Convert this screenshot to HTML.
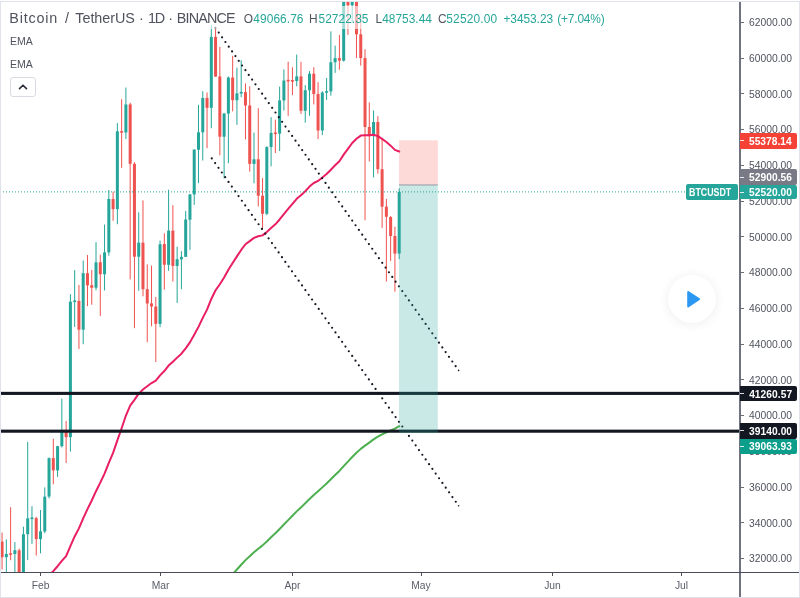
<!DOCTYPE html>
<html><head><meta charset="utf-8"><title>BTCUSDT</title>
<style>
html,body{margin:0;padding:0;background:#fff;}
body{width:800px;height:598px;position:relative;overflow:hidden;font-family:"Liberation Sans",sans-serif;}
#frame{position:absolute;left:0;top:1px;width:798px;height:595px;border:1px solid #e0e3eb;}
svg{position:absolute;left:0;top:0;}
.axv{position:absolute;left:739.4px;top:2px;width:1.3px;height:595px;background:#70737f;}
.axh{position:absolute;left:1px;top:572px;width:798px;height:1px;background:#4a4d57;}
.tick{position:absolute;left:740px;width:4px;height:1px;background:#6a6d78;}
.pl{position:absolute;left:749px;font-size:10.3px;line-height:14px;color:#50535e;white-space:nowrap;}
.tl{position:absolute;top:578.7px;font-size:10.3px;line-height:14px;color:#5d606b;width:40px;margin-left:-20px;text-align:center;}
.tt{position:absolute;top:572px;width:1px;height:4px;background:#4a4d57;}
.tag{position:absolute;}
.tag i{position:absolute;left:0.6px;width:3.6px;height:1px;background:#fff;opacity:.85}
.w{position:absolute;white-space:nowrap;}
#legbg{position:absolute;left:5px;top:5.6px;width:604px;height:23px;background:rgba(255,255,255,.6);}
#title{position:absolute;left:10px;top:9px;font-size:14.4px;line-height:18px;color:#50535e;white-space:nowrap;}
#ohlc{position:absolute;left:243px;top:10px;font-size:12.4px;line-height:16px;color:#50535e;white-space:nowrap;}
#ohlc b{font-weight:normal;color:#26a69a;}
.ema{position:absolute;left:10px;font-size:10.5px;line-height:14px;color:#50535e;}
#btn{position:absolute;left:10.4px;top:77.2px;width:24px;height:17.5px;border:1px solid #d9dbe2;border-radius:3px;background:#fff;}
#play{position:absolute;left:668.2px;top:275.4px;width:48px;height:48px;border-radius:50%;background:#fff;box-shadow:0 1px 12px rgba(0,0,0,.075);}
</style></head><body>
<div id="frame"></div>
<svg width="800" height="598" viewBox="0 0 800 598"><defs><clipPath id="cp"><rect x="1" y="2" width="739" height="570"/></clipPath></defs><g clip-path="url(#cp)">
<rect x="1.57" y="532.57" width="1" height="36.93" fill="#ef5350"/>
<rect x="0.57" y="541.61" width="3" height="15.59" fill="#ef5350"/>
<rect x="5.84" y="539.45" width="1" height="38.80" fill="#26a69a"/>
<rect x="4.84" y="553.96" width="3" height="3.24" fill="#26a69a"/>
<rect x="10.11" y="507.21" width="1" height="52.99" fill="#ef5350"/>
<rect x="9.11" y="553.21" width="3" height="1.60" fill="#ef5350"/>
<rect x="14.38" y="542.13" width="1" height="37.25" fill="#26a69a"/>
<rect x="13.38" y="550.24" width="3" height="3.81" fill="#26a69a"/>
<rect x="18.65" y="548.63" width="1" height="59.27" fill="#ef5350"/>
<rect x="17.65" y="550.30" width="3" height="37.50" fill="#ef5350"/>
<rect x="22.92" y="526.72" width="1" height="70.44" fill="#26a69a"/>
<rect x="21.92" y="534.21" width="3" height="53.65" fill="#26a69a"/>
<rect x="27.19" y="441.86" width="1" height="118.25" fill="#26a69a"/>
<rect x="26.19" y="518.34" width="3" height="15.80" fill="#26a69a"/>
<rect x="31.46" y="506.17" width="1" height="37.68" fill="#26a69a"/>
<rect x="30.46" y="517.50" width="3" height="1.60" fill="#26a69a"/>
<rect x="35.73" y="516.73" width="1" height="38.80" fill="#ef5350"/>
<rect x="34.73" y="518.16" width="3" height="20.91" fill="#ef5350"/>
<rect x="40.00" y="510.03" width="1" height="43.27" fill="#26a69a"/>
<rect x="39.00" y="531.32" width="3" height="7.81" fill="#26a69a"/>
<rect x="44.27" y="487.38" width="1" height="45.86" fill="#26a69a"/>
<rect x="43.27" y="496.64" width="3" height="34.83" fill="#26a69a"/>
<rect x="48.54" y="457.39" width="1" height="41.11" fill="#26a69a"/>
<rect x="47.54" y="458.18" width="3" height="38.36" fill="#26a69a"/>
<rect x="52.81" y="438.70" width="1" height="45.52" fill="#ef5350"/>
<rect x="51.81" y="458.14" width="3" height="12.23" fill="#ef5350"/>
<rect x="57.08" y="445.81" width="1" height="31.10" fill="#26a69a"/>
<rect x="56.08" y="446.17" width="3" height="24.20" fill="#26a69a"/>
<rect x="61.35" y="398.54" width="1" height="48.97" fill="#26a69a"/>
<rect x="60.35" y="430.15" width="3" height="16.03" fill="#26a69a"/>
<rect x="65.62" y="420.97" width="1" height="41.98" fill="#ef5350"/>
<rect x="64.62" y="430.24" width="3" height="6.90" fill="#ef5350"/>
<rect x="69.89" y="294.18" width="1" height="157.39" fill="#26a69a"/>
<rect x="68.89" y="301.68" width="3" height="135.46" fill="#26a69a"/>
<rect x="74.16" y="270.08" width="1" height="56.85" fill="#26a69a"/>
<rect x="73.16" y="300.47" width="3" height="1.60" fill="#26a69a"/>
<rect x="78.43" y="284.95" width="1" height="64.04" fill="#ef5350"/>
<rect x="77.43" y="300.86" width="3" height="28.83" fill="#ef5350"/>
<rect x="82.70" y="260.50" width="1" height="83.72" fill="#26a69a"/>
<rect x="81.70" y="273.18" width="3" height="56.51" fill="#26a69a"/>
<rect x="86.97" y="255.02" width="1" height="51.12" fill="#ef5350"/>
<rect x="85.97" y="273.19" width="3" height="12.17" fill="#ef5350"/>
<rect x="91.24" y="269.94" width="1" height="34.82" fill="#ef5350"/>
<rect x="90.24" y="285.17" width="3" height="2.59" fill="#ef5350"/>
<rect x="95.51" y="242.11" width="1" height="48.13" fill="#26a69a"/>
<rect x="94.51" y="262.31" width="3" height="25.40" fill="#26a69a"/>
<rect x="99.78" y="254.57" width="1" height="61.48" fill="#ef5350"/>
<rect x="98.78" y="262.26" width="3" height="11.96" fill="#ef5350"/>
<rect x="104.05" y="224.56" width="1" height="65.88" fill="#26a69a"/>
<rect x="103.05" y="252.37" width="3" height="21.84" fill="#26a69a"/>
<rect x="108.32" y="190.08" width="1" height="65.61" fill="#26a69a"/>
<rect x="107.32" y="199.00" width="3" height="53.37" fill="#26a69a"/>
<rect x="112.59" y="191.66" width="1" height="29.12" fill="#ef5350"/>
<rect x="111.59" y="199.04" width="3" height="10.10" fill="#ef5350"/>
<rect x="116.86" y="123.06" width="1" height="101.13" fill="#26a69a"/>
<rect x="115.86" y="131.32" width="3" height="77.82" fill="#26a69a"/>
<rect x="121.13" y="99.25" width="1" height="68.58" fill="#ef5350"/>
<rect x="120.13" y="131.10" width="3" height="1.60" fill="#ef5350"/>
<rect x="125.40" y="87.60" width="1" height="51.38" fill="#26a69a"/>
<rect x="124.40" y="104.47" width="3" height="28.01" fill="#26a69a"/>
<rect x="129.67" y="102.69" width="1" height="176.69" fill="#ef5350"/>
<rect x="128.67" y="104.40" width="3" height="59.43" fill="#ef5350"/>
<rect x="133.94" y="162.11" width="1" height="166.06" fill="#ef5350"/>
<rect x="132.94" y="163.83" width="3" height="92.87" fill="#ef5350"/>
<rect x="138.21" y="212.32" width="1" height="78.39" fill="#26a69a"/>
<rect x="137.21" y="242.67" width="3" height="14.03" fill="#26a69a"/>
<rect x="142.48" y="200.40" width="1" height="95.92" fill="#ef5350"/>
<rect x="141.48" y="242.67" width="3" height="46.52" fill="#ef5350"/>
<rect x="146.75" y="264.33" width="1" height="77.89" fill="#ef5350"/>
<rect x="145.75" y="289.19" width="3" height="14.24" fill="#ef5350"/>
<rect x="151.02" y="265.58" width="1" height="60.66" fill="#ef5350"/>
<rect x="150.02" y="303.44" width="3" height="3.04" fill="#ef5350"/>
<rect x="155.29" y="296.97" width="1" height="65.02" fill="#ef5350"/>
<rect x="154.29" y="306.53" width="3" height="17.30" fill="#ef5350"/>
<rect x="159.56" y="240.63" width="1" height="86.51" fill="#26a69a"/>
<rect x="158.56" y="244.26" width="3" height="79.59" fill="#26a69a"/>
<rect x="163.83" y="233.30" width="1" height="56.35" fill="#ef5350"/>
<rect x="162.83" y="244.11" width="3" height="20.64" fill="#ef5350"/>
<rect x="168.10" y="189.69" width="1" height="81.14" fill="#26a69a"/>
<rect x="167.10" y="230.64" width="3" height="34.19" fill="#26a69a"/>
<rect x="172.37" y="205.19" width="1" height="76.37" fill="#ef5350"/>
<rect x="171.37" y="230.64" width="3" height="35.30" fill="#ef5350"/>
<rect x="176.64" y="246.74" width="1" height="56.26" fill="#26a69a"/>
<rect x="175.64" y="259.20" width="3" height="6.74" fill="#26a69a"/>
<rect x="180.91" y="251.17" width="1" height="38.07" fill="#26a69a"/>
<rect x="179.91" y="256.86" width="3" height="2.43" fill="#26a69a"/>
<rect x="185.18" y="210.96" width="1" height="45.90" fill="#26a69a"/>
<rect x="184.18" y="219.52" width="3" height="37.34" fill="#26a69a"/>
<rect x="189.45" y="193.95" width="1" height="55.91" fill="#26a69a"/>
<rect x="188.45" y="194.43" width="3" height="25.31" fill="#26a69a"/>
<rect x="193.72" y="149.39" width="1" height="55.51" fill="#26a69a"/>
<rect x="192.72" y="149.58" width="3" height="44.84" fill="#26a69a"/>
<rect x="197.99" y="104.85" width="1" height="78.32" fill="#26a69a"/>
<rect x="196.99" y="132.30" width="3" height="17.46" fill="#26a69a"/>
<rect x="202.26" y="91.21" width="1" height="69.31" fill="#26a69a"/>
<rect x="201.26" y="97.95" width="3" height="34.35" fill="#26a69a"/>
<rect x="206.53" y="92.44" width="1" height="55.75" fill="#ef5350"/>
<rect x="205.53" y="97.95" width="3" height="9.87" fill="#ef5350"/>
<rect x="210.80" y="25.19" width="1" height="103.06" fill="#26a69a"/>
<rect x="209.80" y="36.91" width="3" height="70.90" fill="#26a69a"/>
<rect x="215.07" y="27.33" width="1" height="49.29" fill="#ef5350"/>
<rect x="214.07" y="36.91" width="3" height="39.68" fill="#ef5350"/>
<rect x="219.34" y="46.83" width="1" height="108.40" fill="#ef5350"/>
<rect x="218.34" y="76.45" width="3" height="60.25" fill="#ef5350"/>
<rect x="223.61" y="112.87" width="1" height="65.54" fill="#26a69a"/>
<rect x="222.61" y="113.55" width="3" height="23.15" fill="#26a69a"/>
<rect x="227.88" y="76.48" width="1" height="86.70" fill="#26a69a"/>
<rect x="226.88" y="77.59" width="3" height="35.96" fill="#26a69a"/>
<rect x="232.15" y="55.84" width="1" height="55.51" fill="#ef5350"/>
<rect x="231.15" y="77.59" width="3" height="22.59" fill="#ef5350"/>
<rect x="236.42" y="67.65" width="1" height="57.16" fill="#26a69a"/>
<rect x="235.42" y="93.36" width="3" height="6.95" fill="#26a69a"/>
<rect x="240.69" y="60.29" width="1" height="36.82" fill="#26a69a"/>
<rect x="239.69" y="91.91" width="3" height="1.60" fill="#26a69a"/>
<rect x="244.96" y="83.36" width="1" height="56.10" fill="#ef5350"/>
<rect x="243.96" y="92.10" width="3" height="13.39" fill="#ef5350"/>
<rect x="249.23" y="86.21" width="1" height="85.43" fill="#ef5350"/>
<rect x="248.23" y="105.49" width="3" height="58.41" fill="#ef5350"/>
<rect x="253.50" y="132.68" width="1" height="50.58" fill="#26a69a"/>
<rect x="252.50" y="159.31" width="3" height="4.59" fill="#26a69a"/>
<rect x="257.77" y="108.19" width="1" height="98.30" fill="#ef5350"/>
<rect x="256.77" y="159.27" width="3" height="36.44" fill="#ef5350"/>
<rect x="262.04" y="178.13" width="1" height="51.12" fill="#ef5350"/>
<rect x="261.04" y="195.71" width="3" height="18.05" fill="#ef5350"/>
<rect x="266.31" y="146.21" width="1" height="68.97" fill="#26a69a"/>
<rect x="265.31" y="147.06" width="3" height="66.70" fill="#26a69a"/>
<rect x="270.58" y="117.13" width="1" height="49.15" fill="#26a69a"/>
<rect x="269.58" y="132.91" width="3" height="14.16" fill="#26a69a"/>
<rect x="274.85" y="119.65" width="1" height="33.39" fill="#ef5350"/>
<rect x="273.85" y="132.47" width="3" height="1.60" fill="#ef5350"/>
<rect x="279.12" y="86.65" width="1" height="64.43" fill="#26a69a"/>
<rect x="278.12" y="100.42" width="3" height="33.21" fill="#26a69a"/>
<rect x="283.39" y="69.44" width="1" height="41.05" fill="#26a69a"/>
<rect x="282.39" y="80.56" width="3" height="19.86" fill="#26a69a"/>
<rect x="287.66" y="61.72" width="1" height="54.17" fill="#ef5350"/>
<rect x="286.66" y="79.81" width="3" height="1.60" fill="#ef5350"/>
<rect x="291.93" y="67.26" width="1" height="27.79" fill="#ef5350"/>
<rect x="290.93" y="80.05" width="3" height="1.60" fill="#ef5350"/>
<rect x="296.20" y="54.57" width="1" height="31.67" fill="#26a69a"/>
<rect x="295.20" y="76.43" width="3" height="4.59" fill="#26a69a"/>
<rect x="300.47" y="61.88" width="1" height="52.03" fill="#ef5350"/>
<rect x="299.47" y="76.43" width="3" height="34.28" fill="#ef5350"/>
<rect x="304.74" y="85.10" width="1" height="37.60" fill="#26a69a"/>
<rect x="303.74" y="90.28" width="3" height="20.57" fill="#26a69a"/>
<rect x="309.01" y="71.16" width="1" height="44.59" fill="#26a69a"/>
<rect x="308.01" y="73.71" width="3" height="16.57" fill="#26a69a"/>
<rect x="313.28" y="67.17" width="1" height="37.21" fill="#ef5350"/>
<rect x="312.28" y="73.71" width="3" height="20.34" fill="#ef5350"/>
<rect x="317.55" y="82.19" width="1" height="56.87" fill="#ef5350"/>
<rect x="316.55" y="94.07" width="3" height="36.41" fill="#ef5350"/>
<rect x="321.82" y="91.16" width="1" height="43.84" fill="#26a69a"/>
<rect x="320.82" y="92.52" width="3" height="37.96" fill="#26a69a"/>
<rect x="326.09" y="77.91" width="1" height="22.16" fill="#26a69a"/>
<rect x="325.09" y="91.13" width="3" height="1.60" fill="#26a69a"/>
<rect x="330.36" y="31.34" width="1" height="64.34" fill="#26a69a"/>
<rect x="329.36" y="62.27" width="3" height="29.08" fill="#26a69a"/>
<rect x="334.63" y="45.65" width="1" height="27.20" fill="#26a69a"/>
<rect x="333.63" y="58.11" width="3" height="4.16" fill="#26a69a"/>
<rect x="338.90" y="34.91" width="1" height="34.85" fill="#ef5350"/>
<rect x="337.90" y="58.11" width="3" height="2.54" fill="#ef5350"/>
<rect x="343.17" y="-9.36" width="1" height="70.99" fill="#26a69a"/>
<rect x="342.17" y="-5.75" width="3" height="66.40" fill="#26a69a"/>
<rect x="347.44" y="-28.61" width="1" height="63.50" fill="#ef5350"/>
<rect x="346.44" y="-5.75" width="3" height="11.01" fill="#ef5350"/>
<rect x="351.71" y="-9.77" width="1" height="31.81" fill="#26a69a"/>
<rect x="350.71" y="1.69" width="3" height="3.57" fill="#26a69a"/>
<rect x="355.98" y="-4.77" width="1" height="62.91" fill="#ef5350"/>
<rect x="354.98" y="1.70" width="3" height="32.60" fill="#ef5350"/>
<rect x="360.25" y="13.36" width="1" height="52.30" fill="#ef5350"/>
<rect x="359.25" y="34.30" width="3" height="23.74" fill="#ef5350"/>
<rect x="364.52" y="49.23" width="1" height="171.01" fill="#ef5350"/>
<rect x="363.52" y="58.04" width="3" height="68.92" fill="#ef5350"/>
<rect x="368.79" y="102.36" width="1" height="59.07" fill="#ef5350"/>
<rect x="367.79" y="126.96" width="3" height="9.24" fill="#ef5350"/>
<rect x="373.06" y="110.41" width="1" height="66.97" fill="#26a69a"/>
<rect x="372.06" y="122.04" width="3" height="14.16" fill="#26a69a"/>
<rect x="377.33" y="116.11" width="1" height="57.57" fill="#ef5350"/>
<rect x="376.33" y="122.04" width="3" height="47.15" fill="#ef5350"/>
<rect x="381.60" y="138.20" width="1" height="89.74" fill="#ef5350"/>
<rect x="380.60" y="169.23" width="3" height="37.44" fill="#ef5350"/>
<rect x="385.87" y="198.81" width="1" height="82.75" fill="#ef5350"/>
<rect x="384.87" y="206.67" width="3" height="10.10" fill="#ef5350"/>
<rect x="390.14" y="216.04" width="1" height="44.84" fill="#ef5350"/>
<rect x="389.14" y="217.04" width="3" height="19.00" fill="#ef5350"/>
<rect x="394.41" y="226.74" width="1" height="65.00" fill="#ef5350"/>
<rect x="393.41" y="236.04" width="3" height="17.53" fill="#ef5350"/>
<rect x="398.68" y="188.22" width="1" height="70.94" fill="#26a69a"/>
<rect x="397.68" y="191.84" width="3" height="61.72" fill="#26a69a"/>
<polyline fill="none" stroke="#e91e63" stroke-width="2" stroke-linejoin="round" stroke-linecap="round" points="2.07,601.47 6.34,599.6 10.61,597.82 14.88,595.95 19.15,595.63 23.42,593.22 27.69,590.29 31.96,587.46 36.23,585.56 40.5,583.43 44.77,580.03 49.04,575.25 53.31,571.14 57.58,566.24 61.85,560.9 66.12,556.05 70.39,546.07 74.66,536.46 78.93,528.35 83.2,518.34 87.47,509.2 91.74,500.52 96.01,491.18 100.28,482.67 104.55,473.64 108.82,462.87 113.09,452.92 117.36,440.31 121.63,428.24 125.9,415.54 130.17,405.67 134.44,399.83 138.71,393.66 142.98,389.57 147.25,386.19 151.52,383.06 155.79,380.74 160.06,375.39 164.33,371.05 168.6,365.54 172.87,361.64 177.14,357.62 181.41,353.67 185.68,348.41 189.95,342.37 194.22,334.81 198.49,326.87 202.76,317.89 207.03,309.65 211.3,298.96 215.57,290.24 219.84,284.21 224.11,277.52 228.38,269.68 232.65,263.03 236.92,256.38 241.19,249.94 245.46,244.27 249.73,241.12 254.0,237.91 258.27,236.26 262.54,235.38 266.81,231.91 271.08,228.03 275.35,224.33 279.62,219.47 283.89,214.02 288.16,208.79 292.43,203.78 296.7,198.79 300.97,195.33 305.24,191.21 309.51,186.61 313.78,182.98 318.05,180.92 322.32,177.45 326.59,174.07 330.86,169.69 335.13,165.31 339.4,161.21 343.67,154.66 347.94,148.8 352.21,143.03 356.48,138.77 360.75,135.6 365.02,135.26 369.29,135.3 373.56,134.78 377.83,136.13 382.1,138.9 386.37,141.95 390.64,145.64 394.91,149.87 399.18,151.52"/>
<polyline fill="none" stroke="#4caf50" stroke-width="2" stroke-linejoin="round" stroke-linecap="round" points="2.07,790.38 6.34,788.03 10.61,785.7 14.88,783.36 19.15,781.41 23.42,778.95 27.69,776.36 31.96,773.79 36.23,771.46 40.5,769.07 44.77,766.36 49.04,763.29 53.31,760.37 57.58,757.25 61.85,753.99 66.12,750.84 70.39,746.37 74.66,741.94 78.93,737.84 83.2,733.21 87.47,728.76 91.74,724.37 96.01,719.77 100.28,715.34 104.55,710.73 108.82,705.64 113.09,700.7 117.36,695.03 121.63,689.44 125.9,683.62 130.17,678.44 134.44,674.25 138.71,669.95 142.98,666.16 147.25,662.55 151.52,659.01 155.79,655.68 160.06,651.58 164.33,647.73 168.6,643.58 172.87,639.83 177.14,636.04 181.41,632.27 185.68,628.16 189.95,623.84 194.22,619.12 198.49,614.28 202.76,609.14 207.03,604.15 211.3,598.51 215.57,593.32 219.84,588.77 224.11,584.04 228.38,579.01 232.65,574.24 236.92,569.46 241.19,564.71 245.46,560.14 249.73,556.19 254.0,552.24 258.27,548.7 262.54,545.36 266.81,541.4 271.08,537.34 275.35,533.32 279.62,529.01 283.89,524.55 288.16,520.13 292.43,515.76 296.7,511.39 300.97,507.41 305.24,503.26 309.51,498.98 313.78,494.95 318.05,491.33 322.32,487.36 326.59,483.42 330.86,479.23 335.13,475.04 339.4,470.91 343.67,466.17 347.94,461.58 352.21,457.01 356.48,452.8 360.75,448.87 365.02,445.67 369.29,442.59 373.56,439.4 377.83,436.71 382.1,434.42 386.37,432.26 390.64,430.31 394.91,428.55 399.18,426.19"/>
<rect x="0" y="391.83" width="740" height="3.1" fill="#131722"/>
<rect x="0" y="429.63" width="740" height="3.1" fill="#131722"/>
<line x1="215.4" y1="27.9" x2="458.7" y2="370.5" stroke="#131722" stroke-width="2.2" stroke-linecap="round" stroke-dasharray="0 5.763"/>
<line x1="211.8" y1="158.4" x2="458.7" y2="505.9" stroke="#131722" stroke-width="2.2" stroke-linecap="round" stroke-dasharray="0 5.77"/>
<circle cx="458.6" cy="370.4" r="0.8" fill="#131722"/><circle cx="458.6" cy="505.8" r="0.8" fill="#131722"/>
<rect x="399" y="140.3" width="38.8" height="44.5" fill="#f44336" fill-opacity="0.2"/>
<rect x="399" y="185" width="38.8" height="248" fill="#26a69a" fill-opacity="0.25"/>
<rect x="399" y="184.4" width="38.8" height="1.1" fill="#9c9ea8"/>
<line x1="0" y1="191.9" x2="686" y2="191.9" stroke="#26a69a" stroke-width="1" stroke-dasharray="1 2"/>
</g></svg>
<div class="axv"></div><div class="axh"></div>
<div class="tick" style="top:558.09px"></div><div class="pl" style="top:552.29px">32000.00</div>
<div class="tick" style="top:522.34px"></div><div class="pl" style="top:516.54px">34000.00</div>
<div class="tick" style="top:486.60px"></div><div class="pl" style="top:480.80px">36000.00</div>
<div class="tick" style="top:450.85px"></div><div class="pl" style="top:445.05px">38000.00</div>
<div class="tick" style="top:415.11px"></div><div class="pl" style="top:409.31px">40000.00</div>
<div class="tick" style="top:379.36px"></div><div class="pl" style="top:373.56px">42000.00</div>
<div class="tick" style="top:343.61px"></div><div class="pl" style="top:337.81px">44000.00</div>
<div class="tick" style="top:307.87px"></div><div class="pl" style="top:302.07px">46000.00</div>
<div class="tick" style="top:272.12px"></div><div class="pl" style="top:266.32px">48000.00</div>
<div class="tick" style="top:236.38px"></div><div class="pl" style="top:230.58px">50000.00</div>
<div class="tick" style="top:200.63px"></div><div class="pl" style="top:194.83px">52000.00</div>
<div class="tick" style="top:164.88px"></div><div class="pl" style="top:159.08px">54000.00</div>
<div class="tick" style="top:129.14px"></div><div class="pl" style="top:123.34px">56000.00</div>
<div class="tick" style="top:93.39px"></div><div class="pl" style="top:87.59px">58000.00</div>
<div class="tick" style="top:57.65px"></div><div class="pl" style="top:51.85px">60000.00</div>
<div class="tick" style="top:21.90px"></div><div class="pl" style="top:16.10px">62000.00</div>
<div class="tt" style="left:40px"></div><div class="tl" style="left:40.5px">Feb</div>
<div class="tt" style="left:160px"></div><div class="tl" style="left:160.5px">Mar</div>
<div class="tt" style="left:292px"></div><div class="tl" style="left:292.5px">Apr</div>
<div class="tt" style="left:420.5px"></div><div class="tl" style="left:421px">May</div>
<div class="tt" style="left:552px"></div><div class="tl" style="left:552.5px">Jun</div>
<div class="tt" style="left:681px"></div><div class="tl" style="left:681.5px">Jul</div>

<div class="tag" style="left:739.6px;top:132.5px;width:57.0px;height:16.2px;background:#f44336;border-radius:0 2px 2px 0"><i style="top:7.60px"></i></div><span class="w" style="left:748.99px;top:134.6px;font-size:10.2px;line-height:14px;letter-spacing:0.028px;color:#fff;font-weight:bold;">55378.14</span>
<div class="tag" style="left:739.6px;top:169px;width:57.0px;height:16.4px;background:#787b86;border-radius:0 2px 2px 0"><i style="top:7.70px"></i></div><span class="w" style="left:748.99px;top:171.2px;font-size:10.2px;line-height:14px;letter-spacing:0.072px;color:#fff;font-weight:bold;">52900.56</span>
<div class="tag" style="left:739.6px;top:185.2px;width:57.0px;height:14.3px;background:#26a69a;border-radius:0 2px 2px 0"><i style="top:6.65px"></i></div><span class="w" style="left:748.99px;top:186.35px;font-size:10.2px;line-height:14px;letter-spacing:0.079px;color:#fff;font-weight:bold;">52520.00</span>
<div class="tag" style="left:685.8px;top:183.5px;width:52.4px;height:16.2px;background:#26a69a;border-radius:2px"></div><span class="w" style="left:689.43px;top:185.6px;font-size:10px;line-height:14px;color:#fff;font-weight:bold;transform:scaleX(0.8842);transform-origin:0 0;">BTCUSDT</span>
<div class="tag" style="left:739.6px;top:386px;width:57.0px;height:15.2px;background:#131722;border-radius:0 2px 2px 0"><i style="top:7.10px"></i></div><span class="w" style="left:749.15px;top:387.6px;font-size:10.2px;line-height:14px;letter-spacing:0.065px;color:#fff;font-weight:bold;">41260.57</span>
<div class="tag" style="left:739.6px;top:423.2px;width:57.0px;height:15.4px;background:#131722;border-radius:0 2px 2px 0"><i style="top:7.20px"></i></div><span class="w" style="left:749.07px;top:424.9px;font-size:10.2px;line-height:14px;letter-spacing:0.068px;color:#fff;font-weight:bold;">39140.00</span>
<div class="tag" style="left:739.6px;top:438.5px;width:57.0px;height:15.8px;background:#0a9e8b;border-radius:0 2px 2px 0"><i style="top:7.40px"></i></div><span class="w" style="left:749.07px;top:440.4px;font-size:10.2px;line-height:14px;letter-spacing:0.061px;color:#fff;font-weight:bold;">39063.93</span>

<div id="legbg"></div>
<span class="w" style="left:9.25px;top:8.8px;font-size:14.4px;line-height:19px;letter-spacing:0.809px;color:#50535e;">Bitcoin</span>
<span class="w" style="left:65.00px;top:8.8px;font-size:14.4px;line-height:19px;letter-spacing:0.000px;color:#50535e;">/</span>
<span class="w" style="left:75.31px;top:8.8px;font-size:14.4px;line-height:19px;letter-spacing:-0.045px;color:#50535e;">TetherUS</span>
<span class="w" style="left:138.91px;top:8.8px;font-size:14.4px;line-height:19px;letter-spacing:0.000px;color:#50535e;">·</span>
<span class="w" style="left:147.92px;top:8.8px;font-size:14.4px;line-height:19px;letter-spacing:-1.232px;color:#50535e;">1D</span>
<span class="w" style="left:168.31px;top:8.8px;font-size:14.4px;line-height:19px;letter-spacing:0.000px;color:#50535e;">·</span>
<span class="w" style="left:176.85px;top:8.8px;font-size:14.4px;line-height:19px;letter-spacing:-0.874px;color:#50535e;">BINANCE</span>
<span class="w" style="left:243.86px;top:10.9px;font-size:11.9px;line-height:16px;letter-spacing:0.000px;color:#50535e;">O</span>
<span class="w" style="left:253.33px;top:10.9px;font-size:11.9px;line-height:16px;letter-spacing:0.079px;color:#26a69a;">49066.76</span>
<span class="w" style="left:309.05px;top:10.9px;font-size:11.9px;line-height:16px;letter-spacing:0.000px;color:#50535e;">H</span>
<span class="w" style="left:318.52px;top:10.9px;font-size:11.9px;line-height:16px;letter-spacing:0.047px;color:#26a69a;">52722.35</span>
<span class="w" style="left:375.45px;top:10.9px;font-size:11.9px;line-height:16px;letter-spacing:0.000px;color:#50535e;">L</span>
<span class="w" style="left:382.13px;top:10.9px;font-size:11.9px;line-height:16px;letter-spacing:0.025px;color:#26a69a;">48753.44</span>
<span class="w" style="left:437.90px;top:10.9px;font-size:11.9px;line-height:16px;letter-spacing:0.000px;color:#50535e;">C</span>
<span class="w" style="left:446.32px;top:10.9px;font-size:11.9px;line-height:16px;letter-spacing:0.186px;color:#26a69a;">52520.00</span>
<span class="w" style="left:503.43px;top:10.9px;font-size:11.9px;line-height:16px;letter-spacing:-0.040px;color:#26a69a;">+3453.23</span>
<span class="w" style="left:557.29px;top:10.9px;font-size:11.9px;line-height:16px;letter-spacing:-0.169px;color:#26a69a;">(+7.04%)</span>
<div class="ema" style="top:34px">EMA</div>
<div class="ema" style="top:57px">EMA</div>
<div id="btn"><svg width="24" height="18" viewBox="0 0 24 18"><path d="M8.5 10.6 L12 7.2 L15.5 10.6" fill="none" stroke="#2a2e39" stroke-width="1.6" stroke-linecap="round" stroke-linejoin="round"/></svg></div>
<div id="play"><svg width="48" height="48" viewBox="0 0 48 48"><path d="M20.2 17 L31 24.2 L20.2 31.4 Z" fill="#2c98f2" stroke="#2c98f2" stroke-width="2" stroke-linejoin="round"/></svg></div>
</body></html>
